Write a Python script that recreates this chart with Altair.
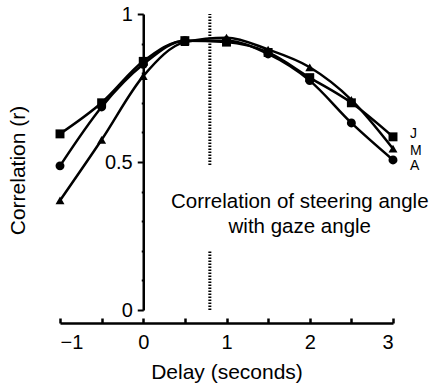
import altair as alt
import pandas as pd

FONT = "Liberation Sans"

# Delay between gaze and steering (s)
delay = [-1, -0.5, 0, 0.5, 1, 1.5, 2, 2.5, 3]

# Correlation of steering angle with gaze angle, one series per driver
corr_j = [0.595, 0.700, 0.840, 0.910, 0.905, 0.870, 0.785, 0.700, 0.585]
corr_m = [0.370, 0.575, 0.790, 0.905, 0.920, 0.880, 0.820, 0.710, 0.545]
corr_a = [0.487, 0.686, 0.830, 0.910, 0.910, 0.865, 0.775, 0.632, 0.507]

drivers = ["J", "M", "A"]
shapes = ["square", "triangle-up", "circle"]

# Dotted reference line at the peak delay, broken around the caption
peak_delay = 0.8
peak_lo = [0.0, 0.49]
peak_hi = [0.20, 1.0]

caption_lines = ["Correlation of steering angle", "with gaze angle"]

y_ticks = [0, 0.1, 0.2, 0.3, 0.4, 0.5, 0.6, 0.7, 0.8, 0.9, 1]
x_ticks = [-1, -0.5, 0, 0.5, 1, 1.5, 2, 2.5, 3]
x_labels = [-1, 0, 1, 2, 3]

rows = []
for name, vals in zip(drivers, [corr_j, corr_m, corr_a]):
    for d, v in zip(delay, vals):
        rows.append({"driver": name, "delay": d, "r": v})
df = pd.DataFrame(rows)

peak_df = pd.DataFrame({"delay": [peak_delay] * len(peak_lo), "lo": peak_lo, "hi": peak_hi})
caption_df = pd.DataFrame({"delay": [1.88, 1.88], "r": [0.365, 0.28], "text": caption_lines})

xs = alt.Scale(domain=[-1, 3], nice=False, zero=False)
ys = alt.Scale(domain=[0, 1], nice=False, zero=False)

W, H = 333, 296
MAJOR = "abs(datum.value - round(datum.value * 2) / 2) < 1e-6"

y_axis = alt.Axis(
    orient="left", offset=-83.25, values=y_ticks, format="~g",
    labelExpr=MAJOR + " ? datum.label : ''",
    tickSize={"condition": {"test": MAJOR, "value": 6}, "value": 2},
    tickWidth=2, tickColor="black", domainColor="black", domainWidth=2.5,
    labelFont=FONT, labelFontSize=20, labelColor="black", labelPadding=5,
    grid=False, title="Correlation (r)", titleFont=FONT, titleFontSize=21,
    titleFontWeight="normal", titleColor="black", titleX=-125, titleY=156,
    titleBaseline="middle",
)

x_axis = alt.Axis(
    orient="bottom", offset=13, values=x_labels, ticks=False,
    domainColor="black", domainWidth=2.5, labelFont=FONT, labelFontSize=20,
    labelColor="black", labelPadding=9, grid=False,
    title="Delay (seconds)", titleFont=FONT, titleFontSize=21,
    titleFontWeight="normal", titleColor="black", titlePadding=9,
)

# Tick marks that point up from the delay axis
x_tick_axis = alt.Axis(
    orient="top", offset=-(H + 13), values=x_ticks, labels=False, domain=False,
    tickSize=5, tickWidth=2.5, tickColor="black", grid=False, title=None,
)

lines = alt.Chart(df).mark_line(
    color="black", strokeWidth=2.5, interpolate="monotone"
).encode(
    x=alt.X("delay:Q", scale=xs, axis=x_axis),
    y=alt.Y("r:Q", scale=ys, axis=y_axis),
    detail="driver:N",
)

points = alt.Chart(df).mark_point(
    filled=True, color="black", opacity=1, size=80
).encode(
    x=alt.X("delay:Q", scale=xs, axis=x_tick_axis),
    y=alt.Y("r:Q", scale=ys, axis=None),
    shape=alt.Shape("driver:N", scale=alt.Scale(domain=drivers, range=shapes), legend=None),
)

peak = alt.Chart(peak_df).mark_rule(
    color="black", strokeWidth=3, strokeDash=[1.5, 1.5]
).encode(
    x=alt.X("delay:Q", scale=xs, axis=None),
    y=alt.Y("lo:Q", scale=ys, axis=None),
    y2="hi:Q",
)

caption = alt.Chart(caption_df).mark_text(
    font=FONT, fontSize=20.5, color="black", align="center", baseline="middle"
).encode(
    x=alt.X("delay:Q", scale=xs, axis=None),
    y=alt.Y("r:Q", scale=ys, axis=None),
    text="text:N",
)

end_labels = []
for name, vals, shift in zip(drivers, [corr_j, corr_m, corr_a], [-3, 2, 6]):
    lab_df = pd.DataFrame({"delay": [delay[-1]], "r": [vals[-1]], "driver": [name]})
    end_labels.append(
        alt.Chart(lab_df).mark_text(
            font=FONT, fontSize=14, color="black", align="left",
            baseline="middle", dx=17, dy=shift,
        ).encode(
            x=alt.X("delay:Q", scale=xs, axis=None),
            y=alt.Y("r:Q", scale=ys, axis=None),
            text="driver:N",
        )
    )

chart = alt.layer(
    lines, points, peak, caption, *end_labels
).resolve_axis(
    x="independent", y="independent"
).properties(
    width=W, height=H,
    background="white",
    autosize=alt.AutoSizeParams(type="none"),
    padding={"left": 60, "top": 14, "right": 41, "bottom": 79},
).configure_view(stroke=None)

chart.save("out.html", embed_options={"renderer": "svg", "actions": False})
